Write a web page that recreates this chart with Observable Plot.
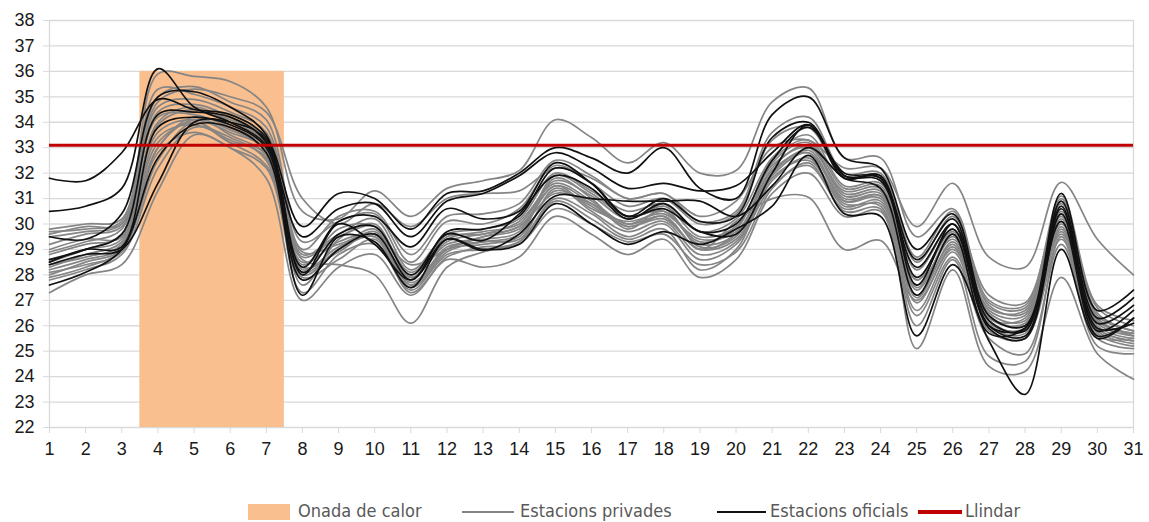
<!DOCTYPE html>
<html>
<head>
<meta charset="utf-8">
<script src="https://cdn.jsdelivr.net/npm/d3@7"></script>
<script src="https://cdn.jsdelivr.net/npm/@observablehq/plot@0.6"></script>
<style>
  body { margin: 0; background: #fff; width: 1149px; height: 522px; overflow: hidden; position: relative; font-family: "Liberation Sans", Arial, sans-serif; }
  #legend { position: absolute; left: 0; top: 500px; width: 1149px; height: 22px; font-family: "Liberation Sans Narrow", "DejaVu Sans Condensed", "Roboto Condensed", sans-serif; font-size: 18px; color: #595959; }
  .sw { position: absolute; }
  .lt { position: absolute; top: 0; height: 22px; line-height: 22px; white-space: nowrap; }
</style>
</head>
<body>
<div id="chart"></div>
<div id="legend"></div>
<script>
const days = d3.range(1, 32);
const yTicks = d3.range(22, 39);
const heatWave = {start: 3.5, end: 7.5, top: 36};
const threshold = 33.1;

// Official stations (black)
const B1 = [31.8, 31.7, 32.8, 34.9, 34.5, 34.3, 33.4, 29.9, 31.2, 31.0, 29.8, 31.2, 31.3, 32.0, 33.0, 32.6, 32.0, 33.0, 31.4, 31.0, 34.3, 35.0, 32.6, 32.2, 29.0, 30.4, 26.4, 26.0, 31.2, 26.6, 27.4];
const B2 = [30.5, 30.7, 31.4, 36.1, 34.6, 34.0, 33.1, 29.5, 30.6, 30.8, 29.5, 30.9, 31.2, 31.9, 32.8, 32.2, 31.4, 31.6, 31.3, 31.5, 32.8, 33.9, 31.9, 31.8, 28.6, 30.2, 26.2, 25.8, 30.9, 26.3, 27.1];
const B3 = [29.5, 29.4, 30.4, 35.0, 35.2, 34.6, 33.5, 28.3, 30.1, 30.3, 29.1, 30.6, 30.2, 30.5, 32.4, 31.6, 30.3, 31.0, 30.1, 30.3, 33.4, 34.0, 31.9, 31.7, 28.3, 30.0, 26.0, 25.6, 30.6, 26.1, 26.8];
const B4 = [28.6, 29.0, 29.6, 34.3, 34.4, 34.2, 33.2, 28.1, 29.6, 29.9, 28.0, 29.6, 29.35, 30.4, 31.9, 31.4, 30.2, 30.8, 29.7, 30.0, 32.5, 33.8, 32.0, 31.8, 27.6, 30.0, 25.9, 25.5, 30.4, 25.8, 26.6];
const B5 = [28.5, 29.0, 29.1, 33.8, 34.2, 33.9, 33.0, 27.8, 29.0, 29.6, 27.8, 29.4, 28.96, 29.6, 31.1, 31.0, 30.9, 30.9, 30.9, 30.3, 31.5, 33.0, 31.8, 31.4, 27.2, 29.6, 25.7, 25.9, 30.1, 25.6, 26.3];
const B6 = [27.6, 28.1, 29.0, 32.6, 33.9, 33.8, 32.8, 27.2, 29.5, 29.3, 27.5, 29.4, 29.0, 29.2, 30.8, 30.0, 29.2, 29.7, 29.2, 29.8, 30.7, 32.7, 30.4, 30.3, 25.6, 28.4, 25.4, 23.3, 29.0, 25.5, 26.3];
const B7 = [28.4, 28.8, 29.0, 31.6, 34.0, 34.0, 33.3, 28.0, 30.0, 29.2, 27.8, 29.7, 29.8, 30.3, 32.2, 31.6, 30.3, 30.6, 29.7, 29.6, 32.0, 33.9, 31.8, 31.9, 27.9, 29.8, 26.0, 25.9, 30.7, 25.9, 26.1];

// Private stations (grey)
const G1 = [29.8, 30.0, 30.2, 35.9, 35.8, 35.6, 34.6, 30.5, 30.2, 31.3, 30.3, 31.4, 31.7, 32.1, 34.1, 33.4, 32.4, 33.2, 32.0, 32.1, 34.8, 35.35, 32.6, 32.6, 29.5, 30.6, 26.8, 26.5, 31.0, 26.5, 25.8];
const G2 = [29.6, 29.9, 30.0, 34.8, 35.3, 35.0, 34.4, 31.0, 30.0, 30.8, 29.9, 31.0, 31.2, 31.3, 32.2, 31.8, 31.0, 31.2, 30.3, 30.9, 33.0, 33.3, 32.2, 32.2, 29.9, 31.6, 28.7, 28.3, 31.64, 29.4, 28.0];
const G3 = [27.3, 28.0, 28.4, 31.3, 33.5, 33.0, 31.8, 27.0, 28.3, 28.8, 27.2, 28.6, 28.3, 28.7, 30.3, 29.6, 28.8, 29.4, 27.9, 28.6, 31.2, 32.0, 30.3, 30.5, 25.1, 28.2, 24.4, 24.2, 27.9, 24.9, 23.9];
const G4 = [28.0, 28.5, 29.0, 32.5, 34.0, 33.2, 32.3, 28.6, 28.4, 28.0, 26.1, 28.3, 28.9, 29.3, 30.9, 30.2, 29.4, 29.8, 28.2, 29.0, 31.8, 32.5, 30.8, 30.7, 26.0, 28.6, 24.8, 24.6, 29.5, 25.2, 24.9];
const G5 = [28.8, 29.2, 29.5, 33.0, 34.2, 33.5, 32.7, 28.5, 29.3, 29.6, 28.4, 29.0, 29.5, 29.9, 31.2, 30.8, 30.0, 30.3, 29.0, 30.1, 31.0, 31.05, 29.0, 29.35, 27.0, 29.0, 26.2, 25.8, 29.8, 25.9, 25.4];
const G6 = [28.2, 28.6, 29.1, 34.0, 34.6, 34.0, 33.2, 28.0, 29.0, 29.8, 27.6, 29.1, 29.3, 29.6, 31.8, 31.0, 29.8, 30.6, 29.1, 29.5, 32.4, 33.2, 31.2, 31.3, 27.4, 29.6, 26.5, 26.2, 30.3, 26.1, 25.6];
const G7 = [28.5, 29.0, 29.6, 33.6, 34.1, 33.6, 32.9, 27.6, 29.4, 30.0, 27.9, 29.3, 29.6, 29.9, 31.5, 30.6, 30.1, 30.4, 29.4, 29.7, 32.0, 32.9, 31.0, 31.1, 27.8, 29.8, 26.7, 26.6, 30.1, 26.0, 25.5];
const G8 = [28.9, 29.3, 29.8, 34.6, 34.9, 34.4, 33.6, 28.8, 29.6, 30.2, 28.2, 29.6, 29.8, 30.2, 32.0, 31.3, 30.5, 30.8, 29.7, 30.2, 32.6, 33.5, 31.5, 31.6, 28.2, 30.0, 26.9, 26.7, 30.5, 26.4, 25.8];
const G9 = [27.8, 28.2, 28.8, 32.2, 33.8, 33.4, 32.5, 27.3, 28.8, 29.2, 27.4, 28.8, 29.0, 29.3, 31.0, 30.4, 29.5, 30.0, 28.6, 29.2, 31.5, 32.3, 30.6, 30.8, 26.6, 28.9, 25.8, 25.5, 29.4, 25.7, 25.2];
const G10 = [29.2, 29.6, 29.9, 34.2, 34.3, 33.8, 33.0, 28.4, 29.8, 29.9, 28.0, 29.4, 29.7, 30.0, 31.7, 31.1, 30.2, 30.7, 29.5, 29.9, 32.3, 33.0, 31.3, 31.4, 27.6, 29.4, 26.4, 26.0, 30.2, 26.2, 25.7];
const G11 = [28.3, 28.8, 29.3, 33.2, 34.0, 33.2, 32.8, 28.2, 29.1, 29.5, 27.7, 29.0, 29.2, 29.5, 31.3, 30.7, 29.9, 30.2, 29.0, 29.4, 31.9, 32.8, 30.9, 31.0, 27.2, 29.2, 26.0, 25.7, 29.7, 25.9, 25.4];
const G12 = [28.6, 29.0, 29.4, 33.9, 34.5, 34.1, 33.4, 28.9, 29.2, 29.6, 27.9, 29.2, 29.4, 29.7, 31.9, 31.2, 30.3, 30.5, 29.2, 29.6, 32.2, 33.1, 31.1, 31.2, 27.5, 29.5, 26.3, 26.3, 30.0, 26.3, 25.6];
const G13 = [28.1, 28.4, 28.9, 32.8, 33.6, 33.0, 32.2, 27.9, 28.6, 29.4, 27.3, 28.7, 29.1, 29.2, 30.6, 30.0, 29.3, 29.6, 28.4, 28.9, 31.4, 32.4, 30.5, 30.6, 26.4, 28.7, 25.5, 24.9, 29.2, 25.5, 25.1];
const G14 = [29.5, 29.7, 30.0, 35.0, 35.4, 34.8, 34.1, 29.3, 30.1, 30.4, 28.5, 30.1, 30.0, 30.6, 32.3, 31.6, 30.7, 31.0, 30.0, 30.4, 33.3, 33.8, 31.8, 31.9, 28.5, 30.3, 27.2, 26.9, 30.8, 26.7, 26.0];
const G15 = [28.4, 28.7, 29.2, 33.4, 33.9, 33.3, 32.6, 28.1, 29.0, 29.5, 27.5, 28.9, 29.3, 29.4, 31.4, 30.5, 29.7, 30.1, 28.8, 29.3, 31.7, 32.6, 30.7, 30.9, 26.9, 29.1, 26.1, 25.9, 29.6, 25.8, 25.3];
const G16 = [29.0, 29.4, 29.5, 34.4, 34.7, 34.2, 33.3, 28.7, 29.5, 29.9, 28.1, 29.5, 29.6, 30.1, 31.6, 30.9, 30.0, 30.5, 29.3, 29.8, 32.5, 33.3, 31.4, 31.5, 27.8, 29.7, 26.6, 26.4, 30.4, 26.2, 25.7];
const G17 = [27.9, 28.3, 29.0, 33.0, 34.1, 33.7, 32.9, 28.3, 28.9, 29.7, 27.6, 29.0, 29.5, 29.8, 31.5, 30.8, 29.9, 30.3, 29.0, 29.6, 32.1, 32.8, 30.9, 31.1, 27.1, 29.3, 26.3, 26.1, 29.9, 25.6, 25.5];
const G18 = [29.7, 29.8, 30.1, 35.3, 35.1, 34.6, 33.8, 29.0, 30.3, 30.5, 28.8, 30.3, 30.4, 30.8, 32.5, 31.9, 31.0, 31.2, 30.1, 30.5, 33.6, 34.2, 32.0, 32.0, 28.7, 30.5, 27.0, 26.8, 31.1, 26.8, 26.2];

const official = {B1, B2, B3, B4, B5, B6, B7};
const privateSt = {G1, G2, G3, G4, G5, G6, G7, G8, G9, G10, G11, G12, G13, G14, G15, G16, G17, G18};

function tidy(obj) {
  const out = [];
  for (const [name, vals] of Object.entries(obj)) {
    vals.forEach((v, i) => out.push({series: name, day: days[i], temp: v}));
  }
  return out;
}
const offRows = tidy(official);
const privRows = tidy(privateSt);

const chart = Plot.plot({
  width: 1149,
  height: 468,
  marginLeft: 49,
  marginRight: 16,
  marginTop: 20,
  marginBottom: 41,
  style: {fontFamily: '"Liberation Sans", Arial, sans-serif', fontSize: "18px", color: "#1a1a1a", background: "#fff"},
  x: {type: "linear", domain: [1, 31], ticks: days, tickFormat: d => String(d)},
  y: {type: "linear", domain: [22, 38], ticks: yTicks},
  marks: [
    Plot.ruleY(yTicks, {stroke: "#d9d9d9", strokeWidth: 1.3}),
    Plot.ruleX([1, 31], {stroke: "#d9d9d9", strokeWidth: 1.3}),
    Plot.rect([heatWave], {x1: "start", x2: "end", y1: 22, y2: "top", fill: "#F9BF8F"}),
    Plot.line(privRows, {x: "day", y: "temp", z: "series", stroke: "#858585", strokeWidth: 1.7, curve: "catmull-rom"}),
    Plot.line(offRows, {x: "day", y: "temp", z: "series", stroke: "#111111", strokeWidth: 1.7, curve: "catmull-rom"}),
    Plot.ruleY([threshold], {stroke: "#C00000", strokeWidth: 3}),
    Plot.axisY({ticks: yTicks, tickSize: 6, tickPadding: 9, stroke: "#d9d9d9", fill: "#1a1a1a", fontSize: 18}),
    Plot.axisX({ticks: days, tickSize: 6, tickPadding: 9, stroke: "#d9d9d9", fill: "#1a1a1a", fontSize: 18, tickFormat: d => String(d)})
  ]
});
document.getElementById("chart").appendChild(chart);

const legendItems = [
  {label: "Onada de calor", swLeft: 248, swWidth: 42, swH: 16, color: "#F9BF8F", textLeft: 298},
  {label: "Estacions privades", swLeft: 462, swWidth: 52, swH: 2, color: "#858585", textLeft: 520},
  {label: "Estacions oficials", swLeft: 717, swWidth: 49, swH: 2, color: "#111111", textLeft: 770},
  {label: "Llindar", swLeft: 918, swWidth: 44, swH: 4, color: "#C00000", textLeft: 965}
];
const lg = d3.select("#legend");
for (const it of legendItems) {
  lg.append("div").attr("class", "sw")
    .style("left", it.swLeft + "px").style("width", it.swWidth + "px")
    .style("height", it.swH + "px").style("top", (12 - it.swH / 2) + "px")
    .style("background", it.color);
  lg.append("div").attr("class", "lt").style("left", it.textLeft + "px").text(it.label);
}
</script>
</body>
</html>
